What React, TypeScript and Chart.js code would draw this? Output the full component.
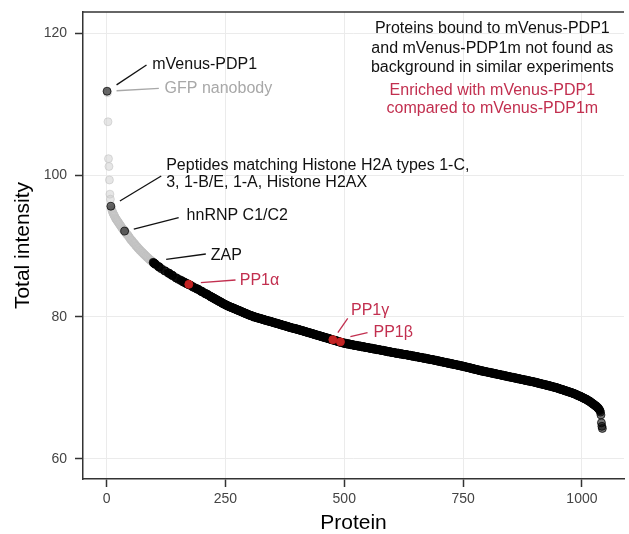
import React, { useEffect, useRef } from "react";
import { Chart, registerables } from "chart.js";

Chart.register(...registerables);

// Total intensity of each protein, sorted by rank (rank = position + 1)
const INTENSITY: number[] = [
  111.8, 111.6, 107.5, 102.3, 101.2, 99.3, 97.3, 96.6, 95.6, 95.3,
  95.1, 94.9, 94.7, 94.6, 94.4, 94.3, 94.2, 94.0, 93.9, 93.8,
  93.7, 93.6, 93.5, 93.4, 93.3, 93.2, 93.1, 93.0, 92.9, 92.8,
  92.7, 92.6, 92.5, 92.4, 92.3, 92.3, 92.2, 92.1, 92.0, 91.9,
  91.8, 91.7, 91.6, 91.6, 91.5, 91.4, 91.3, 91.2, 91.1, 91.0,
  90.9, 90.8, 90.8, 90.7, 90.6, 90.5, 90.4, 90.4, 90.3, 90.2,
  90.1, 90.0, 90.0, 89.9, 89.8, 89.7, 89.7, 89.6, 89.5, 89.4,
  89.4, 89.3, 89.2, 89.2, 89.1, 89.0, 89.0, 88.9, 88.8, 88.8,
  88.7, 88.6, 88.6, 88.5, 88.4, 88.4, 88.3, 88.3, 88.2, 88.1,
  88.1, 88.0, 88.0, 87.9, 87.9, 87.8, 87.7, 87.7, 87.6, 87.6,
  87.5, 87.5, 87.4, 87.4, 87.3, 87.3, 87.2, 87.2, 87.1, 87.1,
  87.0, 87.0, 86.9, 86.9, 86.8, 86.8, 86.7, 86.7, 86.7, 86.6,
  86.6, 86.5, 86.5, 86.4, 86.4, 86.4, 86.3, 86.3, 86.2, 86.2,
  86.2, 86.1, 86.1, 86.0, 86.0, 85.9, 85.9, 85.9, 85.8, 85.8,
  85.7, 85.7, 85.7, 85.6, 85.6, 85.5, 85.5, 85.5, 85.4, 85.4,
  85.3, 85.3, 85.3, 85.2, 85.2, 85.2, 85.1, 85.1, 85.0, 85.0,
  85.0, 84.9, 84.9, 84.9, 84.8, 84.8, 84.8, 84.7, 84.7, 84.7,
  84.6, 84.6, 84.6, 84.5, 84.5, 84.5, 84.4, 84.4, 84.4, 84.3,
  84.3, 84.2, 84.2, 84.2, 84.1, 84.1, 84.1, 84.0, 84.0, 84.0,
  83.9, 83.9, 83.9, 83.8, 83.8, 83.8, 83.7, 83.7, 83.6, 83.6,
  83.6, 83.5, 83.5, 83.5, 83.4, 83.4, 83.3, 83.3, 83.3, 83.2,
  83.2, 83.2, 83.1, 83.1, 83.0, 83.0, 83.0, 82.9, 82.9, 82.8,
  82.8, 82.8, 82.7, 82.7, 82.7, 82.6, 82.6, 82.5, 82.5, 82.5,
  82.4, 82.4, 82.4, 82.3, 82.3, 82.2, 82.2, 82.2, 82.1, 82.1,
  82.1, 82.0, 82.0, 81.9, 81.9, 81.9, 81.8, 81.8, 81.8, 81.7,
  81.7, 81.7, 81.6, 81.6, 81.6, 81.5, 81.5, 81.5, 81.4, 81.4,
  81.4, 81.4, 81.3, 81.3, 81.3, 81.3, 81.2, 81.2, 81.2, 81.1,
  81.1, 81.1, 81.1, 81.0, 81.0, 81.0, 80.9, 80.9, 80.9, 80.9,
  80.8, 80.8, 80.8, 80.7, 80.7, 80.7, 80.7, 80.6, 80.6, 80.6,
  80.5, 80.5, 80.5, 80.5, 80.4, 80.4, 80.4, 80.3, 80.3, 80.3,
  80.3, 80.2, 80.2, 80.2, 80.2, 80.1, 80.1, 80.1, 80.1, 80.0,
  80.0, 80.0, 80.0, 80.0, 79.9, 79.9, 79.9, 79.9, 79.9, 79.8,
  79.8, 79.8, 79.8, 79.8, 79.7, 79.7, 79.7, 79.7, 79.7, 79.6,
  79.6, 79.6, 79.6, 79.6, 79.5, 79.5, 79.5, 79.5, 79.5, 79.4,
  79.4, 79.4, 79.4, 79.4, 79.4, 79.3, 79.3, 79.3, 79.3, 79.3,
  79.2, 79.2, 79.2, 79.2, 79.2, 79.1, 79.1, 79.1, 79.1, 79.1,
  79.0, 79.0, 79.0, 79.0, 79.0, 78.9, 78.9, 78.9, 78.9, 78.9,
  78.8, 78.8, 78.8, 78.8, 78.8, 78.7, 78.7, 78.7, 78.7, 78.7,
  78.6, 78.6, 78.6, 78.6, 78.6, 78.5, 78.5, 78.5, 78.5, 78.5,
  78.4, 78.4, 78.4, 78.4, 78.4, 78.4, 78.3, 78.3, 78.3, 78.3,
  78.3, 78.3, 78.2, 78.2, 78.2, 78.2, 78.2, 78.1, 78.1, 78.1,
  78.1, 78.1, 78.0, 78.0, 78.0, 78.0, 78.0, 77.9, 77.9, 77.9,
  77.9, 77.9, 77.8, 77.8, 77.8, 77.8, 77.8, 77.7, 77.7, 77.7,
  77.7, 77.7, 77.6, 77.6, 77.6, 77.6, 77.6, 77.5, 77.5, 77.5,
  77.5, 77.5, 77.4, 77.4, 77.4, 77.4, 77.4, 77.3, 77.3, 77.3,
  77.3, 77.3, 77.2, 77.2, 77.2, 77.2, 77.2, 77.1, 77.1, 77.1,
  77.1, 77.1, 77.0, 77.0, 77.0, 77.0, 77.0, 76.9, 76.9, 76.9,
  76.9, 76.9, 76.8, 76.8, 76.8, 76.8, 76.8, 76.7, 76.7, 76.7,
  76.7, 76.7, 76.6, 76.6, 76.6, 76.6, 76.6, 76.5, 76.5, 76.5,
  76.5, 76.5, 76.4, 76.4, 76.4, 76.4, 76.4, 76.3, 76.3, 76.3,
  76.3, 76.3, 76.3, 76.3, 76.2, 76.2, 76.2, 76.2, 76.2, 76.2,
  76.2, 76.2, 76.1, 76.1, 76.1, 76.1, 76.1, 76.1, 76.1, 76.0,
  76.0, 76.0, 76.0, 76.0, 76.0, 76.0, 76.0, 75.9, 75.9, 75.9,
  75.9, 75.9, 75.9, 75.9, 75.9, 75.8, 75.8, 75.8, 75.8, 75.8,
  75.8, 75.8, 75.8, 75.7, 75.7, 75.7, 75.7, 75.7, 75.7, 75.7,
  75.7, 75.6, 75.6, 75.6, 75.6, 75.6, 75.6, 75.6, 75.6, 75.5,
  75.5, 75.5, 75.5, 75.5, 75.5, 75.5, 75.5, 75.4, 75.4, 75.4,
  75.4, 75.4, 75.4, 75.4, 75.4, 75.3, 75.3, 75.3, 75.3, 75.3,
  75.3, 75.3, 75.3, 75.2, 75.2, 75.2, 75.2, 75.2, 75.2, 75.2,
  75.1, 75.1, 75.1, 75.1, 75.1, 75.1, 75.1, 75.1, 75.0, 75.0,
  75.0, 75.0, 75.0, 75.0, 75.0, 75.0, 74.9, 74.9, 74.9, 74.9,
  74.9, 74.9, 74.9, 74.9, 74.9, 74.8, 74.8, 74.8, 74.8, 74.8,
  74.8, 74.8, 74.8, 74.7, 74.7, 74.7, 74.7, 74.7, 74.7, 74.7,
  74.7, 74.7, 74.6, 74.6, 74.6, 74.6, 74.6, 74.6, 74.6, 74.6,
  74.5, 74.5, 74.5, 74.5, 74.5, 74.5, 74.5, 74.5, 74.4, 74.4,
  74.4, 74.4, 74.4, 74.4, 74.4, 74.4, 74.3, 74.3, 74.3, 74.3,
  74.3, 74.3, 74.3, 74.3, 74.2, 74.2, 74.2, 74.2, 74.2, 74.2,
  74.2, 74.2, 74.1, 74.1, 74.1, 74.1, 74.1, 74.1, 74.1, 74.0,
  74.0, 74.0, 74.0, 74.0, 74.0, 74.0, 74.0, 73.9, 73.9, 73.9,
  73.9, 73.9, 73.9, 73.9, 73.8, 73.8, 73.8, 73.8, 73.8, 73.8,
  73.8, 73.7, 73.7, 73.7, 73.7, 73.7, 73.7, 73.7, 73.6, 73.6,
  73.6, 73.6, 73.6, 73.6, 73.6, 73.5, 73.5, 73.5, 73.5, 73.5,
  73.5, 73.5, 73.4, 73.4, 73.4, 73.4, 73.4, 73.4, 73.4, 73.3,
  73.3, 73.3, 73.3, 73.3, 73.3, 73.3, 73.2, 73.2, 73.2, 73.2,
  73.2, 73.2, 73.2, 73.1, 73.1, 73.1, 73.1, 73.1, 73.1, 73.1,
  73.0, 73.0, 73.0, 73.0, 73.0, 73.0, 72.9, 72.9, 72.9, 72.9,
  72.9, 72.9, 72.8, 72.8, 72.8, 72.8, 72.8, 72.8, 72.7, 72.7,
  72.7, 72.7, 72.7, 72.7, 72.6, 72.6, 72.6, 72.6, 72.6, 72.6,
  72.5, 72.5, 72.5, 72.5, 72.5, 72.5, 72.4, 72.4, 72.4, 72.4,
  72.4, 72.4, 72.4, 72.3, 72.3, 72.3, 72.3, 72.3, 72.3, 72.3,
  72.2, 72.2, 72.2, 72.2, 72.2, 72.2, 72.2, 72.1, 72.1, 72.1,
  72.1, 72.1, 72.1, 72.1, 72.0, 72.0, 72.0, 72.0, 72.0, 72.0,
  72.0, 71.9, 71.9, 71.9, 71.9, 71.9, 71.9, 71.9, 71.8, 71.8,
  71.8, 71.8, 71.8, 71.8, 71.8, 71.7, 71.7, 71.7, 71.7, 71.7,
  71.7, 71.7, 71.6, 71.6, 71.6, 71.6, 71.6, 71.6, 71.6, 71.5,
  71.5, 71.5, 71.5, 71.5, 71.5, 71.5, 71.4, 71.4, 71.4, 71.4,
  71.4, 71.4, 71.4, 71.3, 71.3, 71.3, 71.3, 71.3, 71.3, 71.3,
  71.2, 71.2, 71.2, 71.2, 71.2, 71.2, 71.2, 71.1, 71.1, 71.1,
  71.1, 71.1, 71.1, 71.1, 71.0, 71.0, 71.0, 71.0, 71.0, 71.0,
  71.0, 70.9, 70.9, 70.9, 70.9, 70.9, 70.9, 70.9, 70.8, 70.8,
  70.8, 70.8, 70.8, 70.8, 70.7, 70.7, 70.7, 70.7, 70.7, 70.7,
  70.6, 70.6, 70.6, 70.6, 70.6, 70.6, 70.5, 70.5, 70.5, 70.5,
  70.5, 70.5, 70.4, 70.4, 70.4, 70.4, 70.4, 70.4, 70.3, 70.3,
  70.3, 70.3, 70.3, 70.3, 70.2, 70.2, 70.2, 70.2, 70.2, 70.1,
  70.1, 70.1, 70.1, 70.1, 70.1, 70.0, 70.0, 70.0, 70.0, 70.0,
  69.9, 69.9, 69.9, 69.9, 69.8, 69.8, 69.8, 69.8, 69.8, 69.7,
  69.7, 69.7, 69.7, 69.6, 69.6, 69.6, 69.6, 69.6, 69.5, 69.5,
  69.5, 69.5, 69.4, 69.4, 69.4, 69.4, 69.4, 69.3, 69.3, 69.3,
  69.3, 69.2, 69.2, 69.2, 69.2, 69.1, 69.1, 69.1, 69.0, 69.0,
  69.0, 68.9, 68.9, 68.9, 68.9, 68.8, 68.8, 68.8, 68.7, 68.7,
  68.7, 68.6, 68.6, 68.6, 68.5, 68.5, 68.5, 68.4, 68.4, 68.4,
  68.3, 68.3, 68.2, 68.2, 68.2, 68.1, 68.1, 68.0, 68.0, 67.9,
  67.9, 67.8, 67.8, 67.7, 67.7, 67.6, 67.6, 67.5, 67.5, 67.4,
  67.4, 67.3, 67.2, 67.2, 67.1, 67.0, 66.9, 66.8, 66.6,
  66.2, 65.1, 64.6, 64.3,
];

// Ranks of proteins that are background in similar experiments (grey), as [first, last]
const BACKGROUND_RANKS: [number, number][] = [
  [2, 8], [10, 37], [39, 97], [104, 108], [112, 114], [116, 121], [124, 125], [126, 129], [133, 136],
  [140, 145], [148, 150], [152, 155], [158, 160], [165, 167], [177, 180], [183, 185], [187, 189],
  [194, 197], [203, 206], [214, 216],
];

// Ranks enriched with mVenus-PDP1 compared to mVenus-PDP1m (red): PP1α, PP1γ, PP1β
const ENRICHED_RANKS: number[] = [173, 476, 492];

const X_TICKS = [0, 250, 500, 750, 1000];
const Y_TICKS = [60, 80, 100, 120];

const FONT = "'Liberation Sans', Arial, Helvetica, sans-serif";
const RED_TEXT = "#c22f4f";

type Ann = { lines: string[]; color: string; tx: number; ty: number; dy: number; l?: [number, number, number, number] };
const ANNOTATIONS: Ann[] = [
  { lines: ["mVenus-PDP1"], color: "#111111", tx: 96, ty: 114.93, dy: 0, l: [21, 112.7, 84, 115.5] },
  { lines: ["GFP nanobody"], color: "#a8a8a8", tx: 122, ty: 111.62, dy: 0, l: [21, 111.87, 110, 112.21] },
  {
    lines: ["Peptides matching Histone H2A types 1-C,", "3, 1-B/E, 1-A, Histone H2AX"],
    color: "#111111", tx: 125.4, ty: 100.7, dy: 2.46, l: [28, 96.34, 115, 99.86],
  },
  { lines: ["hnRNP C1/C2"], color: "#111111", tx: 168.3, ty: 93.66, dy: 0, l: [57.3, 92.39, 151.7, 93.99] },
  { lines: ["ZAP"], color: "#111111", tx: 219.2, ty: 88.03, dy: 0, l: [125.4, 88.13, 208.75, 88.87] },
  { lines: ["PP1α"], color: RED_TEXT, tx: 280.2, ty: 84.51, dy: 0, l: [198.3, 84.83, 271.25, 85.21] },
  { lines: ["PP1γ"], color: RED_TEXT, tx: 514.2, ty: 80.28, dy: 0, l: [486.5, 77.79, 507.3, 79.82] },
  { lines: ["PP1β"], color: RED_TEXT, tx: 561.5, ty: 77.23, dy: 0, l: [512.9, 77.23, 548.96, 77.79] },
];

const LEGEND_BLACK = [
  "Proteins bound to mVenus-PDP1",
  "and mVenus-PDP1m not found as",
  "background in similar experiments",
];
const LEGEND_RED = ["Enriched with mVenus-PDP1", "compared to mVenus-PDP1m"];

function isBackground(rank: number) {
  return BACKGROUND_RANKS.some(([a, b]) => rank >= a && rank <= b);
}

export default function App() {
  const ref = useRef<HTMLCanvasElement | null>(null);

  useEffect(() => {
    if (!ref.current) return;
    const grey: { x: number; y: number }[] = [];
    const dark: { x: number; y: number }[] = [];
    const red: { x: number; y: number }[] = [];
    INTENSITY.forEach((v, i) => {
      const rank = i + 1;
      if (ENRICHED_RANKS.includes(rank)) red.push({ x: rank, y: v });
      else if (isBackground(rank)) grey.push({ x: rank, y: v });
      else dark.push({ x: rank, y: v });
    });

    const annPlugin = {
      id: "annotations",
      afterDraw(chart: any) {
        const c = chart.ctx as CanvasRenderingContext2D;
        const xs = chart.scales.x;
        const ys = chart.scales.y;
        const ca = chart.chartArea;
        const px = (v: number) => xs.getPixelForValue(v);
        const py = (v: number) => ys.getPixelForValue(v);
        c.save();
        c.strokeStyle = "#333333";
        c.lineWidth = 1.5;
        c.beginPath();
        c.moveTo(ca.left, ca.top);
        c.lineTo(ca.right, ca.top);
        c.stroke();

        c.font = `16px ${FONT}`;
        c.textBaseline = "alphabetic";
        for (const a of ANNOTATIONS) {
          if (a.l) {
            c.strokeStyle = a.color;
            c.lineWidth = 1.3;
            c.beginPath();
            c.moveTo(px(a.l[0]), py(a.l[1]));
            c.lineTo(px(a.l[2]), py(a.l[3]));
            c.stroke();
          }
          c.fillStyle = a.color;
          c.textAlign = "left";
          a.lines.forEach((t, k) => c.fillText(t, px(a.tx), py(a.ty - k * a.dy)));
        }
        c.textAlign = "center";
        const cx = px(811.5);
        const blackY = [120, 117.18, 114.51];
        const redY = [111.27, 108.73];
        c.fillStyle = "#111111";
        LEGEND_BLACK.forEach((t, k) => c.fillText(t, cx, py(blackY[k])));
        c.fillStyle = RED_TEXT;
        LEGEND_RED.forEach((t, k) => c.fillText(t, cx, py(redY[k])));

        c.fillStyle = "#000000";
        c.font = `21px ${FONT}`;
        c.textAlign = "center";
        c.fillText("Protein", (ca.left + ca.right) / 2, 529);
        c.save();
        c.translate(28.5, (ca.top + ca.bottom) / 2);
        c.rotate(-Math.PI / 2);
        c.fillText("Total intensity", 0, 0);
        c.restore();
        c.restore();
      },
    };

    const gridCommon = { color: "#ebebeb", lineWidth: 1, tickColor: "#333333", tickLength: 8, tickWidth: 1.5 };
    const chart = new Chart(ref.current, {
      type: "scatter",
      data: {
        datasets: [
          { data: red, pointRadius: 4, backgroundColor: "rgba(214,40,40,0.9)", borderColor: "rgba(200,30,30,0.9)", borderWidth: 1 },
          { data: dark, pointRadius: 4, backgroundColor: "rgba(0,0,0,0.55)", borderColor: "rgba(0,0,0,0.7)", borderWidth: 1 },
          { data: grey, pointRadius: 4, backgroundColor: "rgba(205,205,205,0.5)", borderColor: "rgba(190,190,190,0.5)", borderWidth: 1 },
        ],
      },
      options: {
        animation: false,
        responsive: false,
        devicePixelRatio: 1,
        layout: { padding: { top: 12, right: 0, left: 0, bottom: 0 } },
        plugins: { legend: { display: false }, tooltip: { enabled: false } },
        scales: {
          x: {
            type: "linear",
            min: -49.6,
            max: 1088.5,
            afterBuildTicks: (s: any) => { s.ticks = X_TICKS.map((v) => ({ value: v })); },
            afterFit: (s: any) => { s.height = 55; s.paddingLeft = 0; s.paddingRight = 0; },
            grid: gridCommon,
            border: { color: "#333333", width: 1.5 },
            ticks: {
              color: "#444444", font: { family: FONT, size: 14 }, padding: 4, maxRotation: 0, autoSkip: false,
              callback: (v: any) => String(v),
            },
          },
          y: {
            type: "linear",
            min: 57.18,
            max: 122.96,
            afterBuildTicks: (s: any) => { s.ticks = Y_TICKS.map((v) => ({ value: v })); },
            afterFit: (s: any) => { s.width = 83; s.paddingTop = 0; s.paddingBottom = 0; },
            grid: gridCommon,
            border: { color: "#333333", width: 1.5 },
            ticks: { color: "#444444", font: { family: FONT, size: 14 }, padding: 8, autoSkip: false, callback: (v: any) => String(v) },
          },
        },
      },
      plugins: [annPlugin],
    } as any);
    return () => chart.destroy();
  }, []);

  return (
    <div style={{ position: "fixed", left: 0, top: 0, width: 629, height: 534, background: "#fff" }}>
      <canvas ref={ref} width={629} height={534} style={{ width: 629, height: 534, display: "block" }} />
    </div>
  );
}
